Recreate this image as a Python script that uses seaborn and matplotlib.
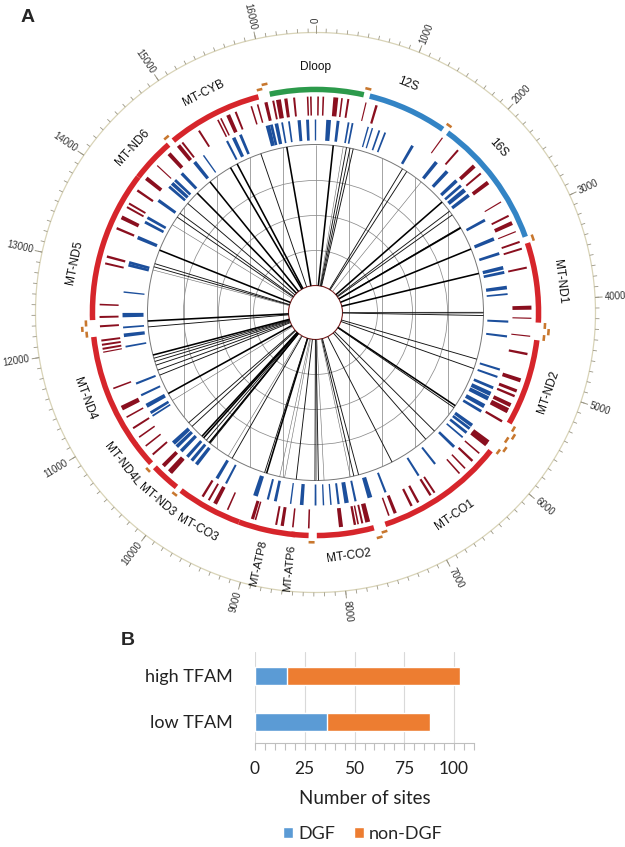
import numpy as np
import matplotlib
matplotlib.use("Agg")
import matplotlib.pyplot as plt
from matplotlib.patches import Circle, Patch
import seaborn as sns
import pandas as pd

sns.set_theme(style="white")
plt.rcParams['font.family'] = ['Liberation Sans', 'DejaVu Sans']

GENOME = 16569

# ---------------- data: mitochondrial genome annotation ----------------
gene_names = ["Dloop", "12S", "16S", "MT-ND1", "MT-ND2", "MT-CO1", "MT-CO2",
              "MT-ATP8", "MT-ATP6", "MT-CO3", "MT-ND3", "MT-ND4L", "MT-ND4",
              "MT-ND5", "MT-ND6", "MT-CYB"]
gene_start = [16024, 648, 1671, 3307, 4470, 5904, 7586, 8366, 8527, 9207,
              10059, 10470, 10760, 12337, 14149, 14747]
gene_end = [576, 1601, 3229, 4262, 5511, 7445, 8269, 8572, 9207, 9990,
            10404, 10766, 12137, 14148, 14673, 15887]
gene_kind = ["dloop", "rrna", "rrna"] + ["protein"] * 13

trna_start = [577, 1602, 3230, 4263, 4329, 4402, 5512, 5587, 5657, 5761, 5826,
              7446, 7518, 8295, 9991, 10405, 12138, 12207, 12266, 14674, 15888, 15956]
trna_end = [647, 1670, 3304, 4331, 4400, 4469, 5579, 5655, 5729, 5826, 5891,
            7514, 7585, 8364, 10058, 10469, 12206, 12265, 12336, 14742, 15953, 16023]

# outer (dark red) track: site positions (bp) and widths (bp)
red_pos = [15773, 15853, 15958, 16049, 16114, 16205, 16307, 16473, 16512, 32, 96, 249,
           325, 403, 623, 756, 1657, 1900, 2177, 2298, 2440, 2725, 2918, 3016, 3130,
           3264, 3351, 3590, 4083, 4213, 4433, 4653, 4985, 5123, 5191, 5311, 5379,
           5408, 5535, 5845, 5877, 6015, 6140, 6268, 6360, 6745, 6803, 6977, 7069,
           7287, 7370, 7640, 7708, 7760, 7800, 7972, 8367, 8562, 8693, 8768, 9028,
           9066, 9390, 9560, 9648, 9735, 10220, 10242, 10346, 10535, 10670, 10804,
           10936, 11092, 11217, 11479, 11939, 11981, 12031, 12083, 12258, 12372,
           12524, 13032, 13118, 13484, 13630, 13771, 13822, 14011, 14195, 14400,
           14604, 14757, 14817, 15066, 15332, 15373, 15471, 15570]
red_width = [20, 20, 40, 25, 60, 40, 25, 20, 20, 20, 20, 60,
             20, 25, 15, 30, 15, 25, 50, 25, 50, 15, 25, 50, 15,
             25, 25, 25, 50, 15, 15, 30, 50, 40, 30, 50, 50,
             25, 30, 60, 50, 20, 30, 20, 20, 25, 30, 30, 30,
             40, 20, 60, 25, 20, 30, 50, 20, 20, 40, 25, 20,
             40, 20, 50, 25, 30, 40, 50, 50, 25, 20, 20,
             25, 20, 60, 20, 15, 25, 25, 25, 25, 25,
             20, 25, 30, 30, 50, 25, 25, 30, 50, 15,
             50, 50, 25, 25, 20, 20, 50, 25]

# inner (blue) track
blue_pos = [15910, 15960, 16030, 16110, 16205, 16345, 16460, 0, 180, 310, 455, 510,
            730, 790, 890, 975, 1390, 1786, 1980, 2160, 2250, 2330, 2420, 2826, 3111,
            3323, 3525, 3590, 3800, 3890, 4267, 4470, 4934, 5040, 5200, 5290, 5360,
            5478, 5560, 5790, 5845, 5914, 5997, 6172, 6522, 6798, 7305, 7530, 7733,
            7857, 7968, 8073, 8175, 8284, 8474, 8626, 8838, 8943, 9119, 9556, 9698,
            10038, 10120, 10200, 10314, 10400, 10466, 10936, 10986, 11096, 11258,
            11432, 11957, 12114, 12222, 12391, 12707, 13081, 13118, 13479, 13712,
            13782, 14061, 14300, 14360, 14420, 14549, 14784, 14936, 15313, 15414, 15515]
blue_width = [60, 40, 50, 25, 25, 45, 40, 20, 65, 40, 25, 25,
              20, 20, 25, 25, 40, 50, 50, 50, 40, 60, 50, 40, 50,
              40, 50, 40, 50, 25, 30, 30, 30, 30, 40, 60, 60,
              60, 40, 50, 40, 40, 25, 40, 30, 30, 30, 65, 30,
              60, 30, 20, 20, 25, 50, 20, 40, 30, 65, 30, 45,
              50, 45, 45, 50, 50, 60, 25, 40, 60, 30,
              30, 25, 50, 25, 60, 20, 40, 40, 50, 40,
              40, 45, 40, 50, 40, 45, 50, 20, 30, 50, 40]

# central radial links: position (bp) and weight (1 light, 2 normal, 3 heavy)
link_pos = [16116, 279, 437, 490, 546, 597, 15695, 15170, 15289, 14778, 14510, 14290,
            14093, 14019, 13876, 13430, 13205, 13154, 13102, 12293, 12200, 1436, 1515,
            1794, 2250, 2436, 2508, 2740, 2752, 3120, 3523, 4140, 4160, 4190, 4885,
            5040, 5693, 5730, 6209, 6396, 7037, 7600, 7677, 7733, 8150, 8238, 8293,
            8588, 8773, 8851, 9063, 9096, 9654, 9726, 10072, 10089, 10149, 10206,
            10242, 10462, 10540, 10973, 11100, 11419, 11503, 11586, 11647, 11700, 11752]
link_weight = [3, 3, 1, 2, 2, 2, 2, 3, 3, 3, 3, 2,
               2, 2, 1, 3, 2, 2, 1, 3, 2, 2, 2,
               1, 3, 2, 2, 2, 3, 3, 3, 2, 1, 2, 2,
               2, 3, 2, 2, 2, 2, 2, 2, 1, 1, 2, 2,
               2, 1, 1, 3, 2, 2, 1, 2, 3, 2, 3,
               3, 2, 2, 1, 3, 2, 2, 2, 2, 2, 3]

# ---------------- data: panel B ----------------
tfam_groups = ["high TFAM", "low TFAM"]
dgf_sites = [16, 36]
non_dgf_sites = [87, 52]

# ---------------- style / layout ----------------
W, H, DPI = 625, 847, 100
CX, CY, RMAX = 315.5, 312.5, 300.0
gene_colors = {"dloop": "#2c9a4b", "rrna": "#3384c5", "protein": "#d6252b"}
trna_color = "#c8772e"
red_dark = "#8a0f1f"
blue_dark = "#1c4f9c"
label_deg = {"Dloop": 0, "12S": 22.1, "16S": 47.9, "MT-ND1": 82.8, "MT-ND2": 108.9,
             "MT-CO1": 145.4, "MT-CO2": 172.2, "MT-ATP8": 192.8, "MT-ATP6": 185.7,
             "MT-CO3": 208.8, "MT-ND3": 220.3, "MT-ND4L": 232.0, "MT-ND4": 249.5,
             "MT-ND5": 281.6, "MT-ND6": 312.0, "MT-CYB": 333.0}
radial_labels = {"MT-ATP8", "MT-ATP6"}


def rad(p):
    return np.asarray(p, dtype=float) / GENOME * 2 * np.pi


fig = plt.figure(figsize=(W / DPI, H / DPI), dpi=DPI)
fig.patch.set_facecolor("white")
rect = [(CX - RMAX) / W, (H - CY - RMAX) / H, 2 * RMAX / W, 2 * RMAX / H]

# Cartesian background grid of the inner plot
axg = fig.add_axes(rect)
axg.set_xlim(-RMAX, RMAX)
axg.set_ylim(-RMAX, RMAX)
axg.set_axis_off()
grid_col = "#8c8c8c"
outer_clip = Circle((0, 0), 168, transform=axg.transData)
vl = axg.vlines([-132, -99, -66, -33, 0, 33, 66, 99, 132], -168, 168,
                colors=grid_col, linewidth=0.55)
vl.set_clip_path(outer_clip)
for r in [62, 97, 132]:
    axg.add_patch(Circle((0, 0), r, fill=False, edgecolor=grid_col, linewidth=0.55))
axg.add_patch(Circle((0, 0), 168, fill=False, edgecolor="#777777", linewidth=0.7))
axg.add_patch(Circle((0, 0), 27, facecolor="white", edgecolor="#7a1c1c",
                     linewidth=0.8, zorder=5))

# polar axes for the genome tracks
ax = fig.add_axes(rect, projection="polar")
ax.set_theta_zero_location("N")
ax.set_theta_direction(-1)
ax.set_ylim(0, RMAX)
ax.set_axis_off()

# outer scale circle with ticks
full = np.linspace(0, 2 * np.pi, 721)
ax.plot(full, np.full_like(full, 280.0), color="#d9d4b8", linewidth=0.9)
minor_ticks = np.arange(0, GENOME, 100)
ax.vlines(rad(minor_ticks), 280, 284, colors="#9a9685", linewidth=0.6)
major_ticks = np.arange(0, GENOME, 1000)
ax.vlines(rad(major_ticks), 280, 287.5, colors="#9a9685", linewidth=0.7)
for p in major_ticks:
    deg = p / GENOME * 360
    if deg < 180:
        rot, ha = 90 - deg, "left"
    else:
        rot, ha = 270 - deg, "right"
    ax.text(rad(p), 289.5, f"{p}", rotation=rot, rotation_mode="anchor",
            ha=ha, va="center", fontsize=7, color="#333333")

# gene arcs
for s, e, kind in zip(gene_start, gene_end, gene_kind):
    span = (e - s) % GENOME
    ax.bar(rad(s), 5.5, width=rad(span), bottom=220.3, align="edge",
           color=gene_colors[kind], linewidth=0)

# tRNA dashes (stacked when adjacent)
lvl, prev_end = 0, -1000
for s, e in zip(trna_start, trna_end):
    lvl = 1 - lvl if s - prev_end < 40 else 0
    prev_end = e
    ax.bar(rad(s), 2.6, width=rad(e - s), bottom=228.5 + 4 * lvl, align="edge",
           color=trna_color, linewidth=0)

# gene labels
for name in gene_names:
    deg = label_deg[name]
    if name in radial_labels:
        ax.text(np.deg2rad(deg), 257, name, rotation=270 - deg, rotation_mode="anchor",
                ha="center", va="center", fontsize=8.2, color="#111111")
    else:
        rot = -deg if (deg <= 90 or deg >= 270) else 180 - deg
        ax.text(np.deg2rad(deg), 246, name, rotation=rot, rotation_mode="anchor",
                ha="center", va="center", fontsize=8.6, color="#111111")

# data tracks
ax.bar(rad(red_pos), 19, width=rad(red_width), bottom=197, color=red_dark, linewidth=0)
ax.bar(rad(blue_pos), 21, width=rad(blue_width), bottom=172, color=blue_dark, linewidth=0)

lw_map = {1: 0.4, 2: 0.65, 3: 1.15}
col_map = {1: "#6a6a6a", 2: "#111111", 3: "#000000"}
lw = [lw_map[w] for w in link_weight]
lc = [col_map[w] for w in link_weight]
ax.vlines(rad(link_pos), 27, 168, colors=lc, linewidths=lw)

# panel letters
fig.text(28 / W, 1 - 18 / H, "A", fontsize=14, fontweight="bold", ha="center", va="center")
fig.text(128 / W, 1 - 640 / H, "B", fontsize=14, fontweight="bold", ha="center", va="center")

# ---------------- panel B: stacked horizontal bars ----------------
c_dgf, c_non = "#5b9bd5", "#ed7d31"
df = pd.DataFrame({"group": tfam_groups, "DGF": dgf_sites, "non-DGF": non_dgf_sites})
df["total"] = df["DGF"] + df["non-DGF"]

axb = fig.add_axes([255 / W, (H - 743) / H, 219 / W, 91 / H])
sns.barplot(data=df, x="total", y="group", orient="h", color=c_non, saturation=1,
            width=0.39, errorbar=None, ax=axb)
sns.barplot(data=df, x="DGF", y="group", orient="h", color=c_dgf, saturation=1,
            width=0.39, errorbar=None, ax=axb)
axb.set_xlim(0, 110)
axb.set_ylim(1.457, -0.52)
axb.set_xticks([0, 25, 50, 75, 100])
axb.set_xticks(np.arange(0, 111, 5), minor=True)
bfont = ['Lato', 'DejaVu Sans']
for lab in axb.get_xticklabels() + axb.get_yticklabels():
    lab.set_family(bfont)
axb.tick_params(axis="x", which="both", length=5, width=0.8, color="#bfbfbf",
                direction="out", bottom=True, labelsize=12.5, pad=8, labelcolor="#222222")
axb.tick_params(axis="y", length=0, labelsize=13, pad=16, labelcolor="#222222")
axb.grid(axis="x", which="major", color="#d9d9d9", linewidth=0.8)
axb.grid(axis="y", visible=False)
axb.set_axisbelow(True)
for s in ["top", "right", "left"]:
    axb.spines[s].set_visible(False)
axb.spines["bottom"].set_color("#bfbfbf")
axb.spines["bottom"].set_linewidth(0.8)
axb.set_ylabel("")
axb.set_xlabel("Number of sites", fontsize=13.5, family=bfont, color="#222222", labelpad=9)

handles = [Patch(facecolor=c_dgf, label="DGF"), Patch(facecolor=c_non, label="non-DGF")]
fig.legend(handles=handles, loc="center", bbox_to_anchor=(363 / W, 1 - 834 / H),
           ncol=2, frameon=False, prop={"family": bfont, "size": 13},
           handlelength=0.55, handleheight=0.55, handletextpad=0.3, columnspacing=1.0)

fig.savefig("out.png", dpi=DPI)
